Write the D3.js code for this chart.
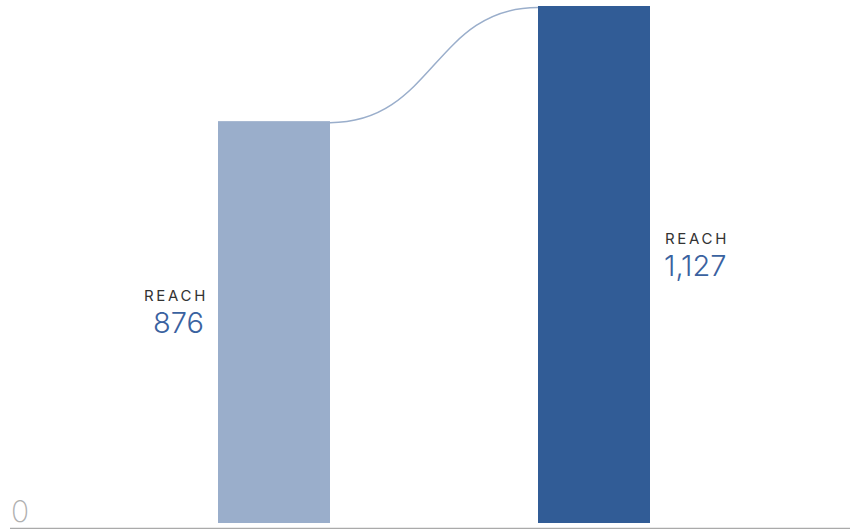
<!DOCTYPE html>
<html><head><meta charset="utf-8">
<script src="https://cdn.jsdelivr.net/npm/d3@7"></script>
<style>body{margin:0;background:#fff}svg{display:block}</style>
</head><body>
<script>
const categories = ["Before", "After"];
const labels = ["REACH", "REACH"];
const values = [876, 1127];
const colors = ["#9aaecb", "#315c96"];
const zeroLabel = "0";

const W = 850, H = 529;
const svg = d3.select("body").append("svg").attr("width", W).attr("height", H);

const x = d3.scalePoint().domain(categories).range([274, 594]);
const barW = 112;
const y = d3.scaleLinear().domain([0, d3.max(values)]).range([523, 6]);

svg.append("line").attr("x1", 10).attr("x2", W).attr("y1", 528.5).attr("y2", 528.5)
  .attr("stroke", "#aaaaaa").attr("stroke-width", 1.5);

svg.append("text").attr("x", 11).attr("y", 522).text(zeroLabel)
  .attr("font-family", "Inter").attr("font-weight", 200).attr("font-size", 30).attr("fill", "#b0b0b0");

svg.selectAll("rect.bar").data(values).join("rect").attr("class", "bar")
  .attr("x", (d, i) => x(categories[i]) - barW / 2)
  .attr("width", barW)
  .attr("y", d => y(d))
  .attr("height", d => y(0) - y(d))
  .attr("fill", (d, i) => colors[i]);

const x0 = x(categories[0]) + barW / 2, y0 = y(values[0]) + 1.5;
const x1 = x(categories[1]) - barW / 2, y1 = y(values[1]) + 1.5;
const mx = (x0 + x1) / 2;
const p = d3.path();
p.moveTo(x0, y0);
p.bezierCurveTo(mx, y0, mx, y1, x1, y1);
svg.append("path").attr("d", p.toString()).attr("fill", "none")
  .attr("stroke", colors[0]).attr("stroke-width", 1.5);

const fmt = d3.format(",");
values.forEach((v, i) => {
  const left = i === 0;
  const mid = (y(v) + y(0)) / 2 - 10;
  const tx = left ? x(categories[i]) - barW / 2 - 15 : x(categories[i]) + barW / 2 + 14;
  const anchor = left ? "end" : "start";
  svg.append("text").attr("x", left ? tx + 5 : tx + 1).attr("y", mid - 11).attr("text-anchor", anchor)
    .attr("font-family", "Inter").attr("font-size", 15).attr("letter-spacing", 2.7)
    .attr("fill", "#333").text(labels[i]);
  svg.append("text").attr("x", tx + (left ? 1 : 0)).attr("y", mid + 21).attr("text-anchor", anchor)
    .attr("font-family", "Inter").attr("font-weight", 300).attr("font-size", 29)
    .attr("fill", "#3a62a0").text(fmt(v));
});
</script>
</body></html>
